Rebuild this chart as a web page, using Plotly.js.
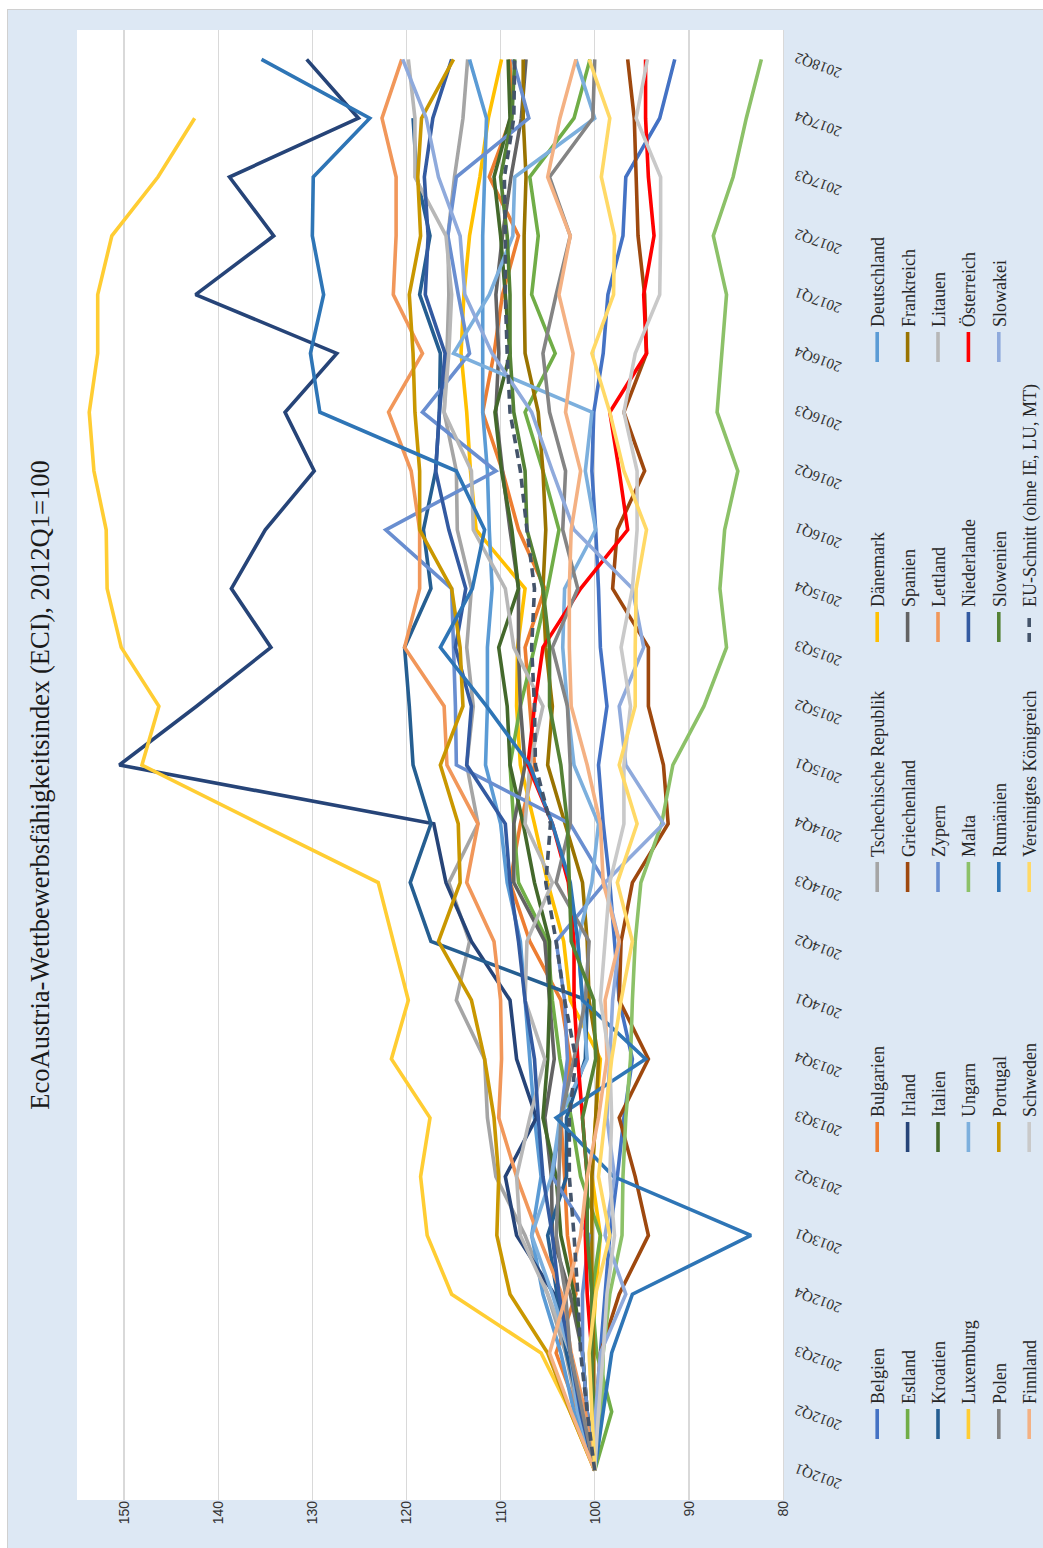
<!DOCTYPE html>
<html>
<head>
<meta charset="utf-8">
<script src="https://cdn.plot.ly/plotly-3.0.1.min.js"></script>
<style>
  html, body { margin: 0; padding: 0; background: #ffffff; }
  body { width: 1043px; height: 1548px; position: relative; overflow: hidden; }
  #wrap { position: absolute; left: 8px; top: 10px; width: 1035px; height: 1538px; outline: 1px solid #d0d0d0; }
  #plot { position: absolute; left: 0; top: 0; width: 1538px; height: 1035px;
          transform-origin: 0 0; transform: translate(0px, 1538px) rotate(-90deg); }
</style>
</head>
<body>
<div id="wrap"><div id="plot"></div></div>
<script>
const quarters = ['2012Q1','2012Q2','2012Q3','2012Q4','2013Q1','2013Q2','2013Q3','2013Q4',
  '2014Q1','2014Q2','2014Q3','2014Q4','2015Q1','2015Q2','2015Q3','2015Q4',
  '2016Q1','2016Q2','2016Q3','2016Q4','2017Q1','2017Q2','2017Q3','2017Q4','2018Q2'];

const belgien      = [100, 99.6, 99.4, 98.9, 98.4, 97.6, 96.9, 96.0, 97.4, 97.9, 98.4, 99.1, 99.6, 98.7, 99.4, 99.6, 99.9, 100.3, 100.1, 99.1, 98.6, 97.0, 96.7, 93.1, 91.5];
const bulgarien    = [100, 101.8, 104.1, 102.0, 102.9, 103.2, 103.6, 102.6, 103.6, 106.9, 109.0, 107.9, 106.4, 106.9, 107.4, 105.3, 108.1, 109.8, 111.9, 110.7, 109.8, 108.1, 111.2, 108.9, 109.0];
const tschechien   = [100, 101.8, 103.1, 105.0, 107.4, 110.5, 111.4, 111.7, 114.7, 113.3, 115.5, 112.4, 113.6, 112.9, 113.6, 113.1, 114.6, 114.7, 116.0, 115.7, 115.5, 115.6, 114.9, 114.0, 113.5];
const daenemark    = [100, 100.3, 100.3, 99.9, 99.4, 100.3, 99.9, 99.4, 102.6, 103.3, 105.0, 106.4, 107.9, 108.3, 108.2, 107.4, 112.6, 113.2, 113.6, 114.2, 113.9, 113.3, 112.2, 111.3, 109.9];
const deutschland  = [100, 102.2, 103.6, 105.5, 106.7, 105.7, 106.4, 106.9, 107.4, 107.9, 109.3, 110.0, 111.6, 111.4, 111.4, 110.9, 111.2, 111.4, 111.9, 111.9, 111.9, 111.9, 111.7, 111.5, 113.3];
const estland      = [100, 98.2, 99.8, 100.3, 99.4, 101.5, 102.5, 103.7, 104.5, 105.0, 108.1, 108.6, 109.0, 107.9, 106.4, 105.0, 103.8, 105.5, 107.4, 104.2, 106.7, 106.0, 106.9, 102.2, 100.5];
const irland       = [100, 101.3, 102.6, 104.3, 108.3, 109.5, 106.2, 108.3, 109.0, 113.1, 115.8, 117.1, 150.5, 142.3, 134.4, 138.6, 135.0, 129.8, 132.9, 127.4, 142.4, 134.1, 138.8, 125.1, 130.6];
const griechenland = [100, 99.9, 99.4, 97.4, 94.3, 95.7, 97.4, 94.3, 97.4, 97.2, 96.0, 92.2, 92.7, 94.3, 94.3, 98.1, 97.6, 94.7, 96.9, 94.5, 94.7, 95.4, 95.6, 95.8, 96.5];
const spanien      = [100, 100.8, 101.3, 102.6, 104.5, 104.6, 105.3, 104.3, 104.8, 105.3, 108.6, 108.6, 107.4, 107.9, 108.1, 108.1, 109.0, 109.8, 110.5, 110.2, 110.5, 109.8, 108.9, 107.8, 107.3];
const frankreich   = [100, 100.1, 100.1, 100.3, 100.3, 100.3, 99.9, 99.6, 100.6, 100.8, 101.3, 103.1, 105.0, 104.5, 105.2, 105.5, 105.2, 105.5, 106.0, 107.4, 107.5, 107.5, 107.3, 107.6, 107.6];
const kroatien     = [100, 101.5, 103.0, 104.0, 105.0, 103.0, 103.0, 101.0, 100.8, 117.4, 119.6, 117.4, 119.3, 119.7, 120.2, 117.4, 118.2, 116.9, 116.5, 116.4, 118.6, 117.5, 118.9, 119.3, null];
const italien      = [100, 100.8, 101.3, 102.2, 103.6, 104.1, 105.5, 105.0, 104.8, 104.8, 106.4, 107.6, 109.0, 109.3, 110.2, 108.1, 108.8, 109.9, 110.6, 109.0, 109.5, 110.0, 110.7, 109.0, 109.2];
const zypern       = [100, 100.8, 101.3, 101.3, 100.6, 104.5, 103.6, 102.9, 103.2, 104.1, 98.9, 102.6, 114.7, 114.8, 115.0, 115.2, 122.2, 110.5, 118.3, 113.3, 114.5, 115.6, 114.7, 107.0, 108.7];
const lettland     = [100, 101.0, 102.5, 103.5, 106.0, 108.3, 110.2, 109.9, 110.0, 110.7, 113.6, 112.4, 115.7, 116.0, 120.2, 118.6, 118.6, 119.5, 121.9, 118.3, 121.4, 121.1, 121.1, 122.6, 120.5];
const litauen      = [100, 101.3, 102.6, 105.0, 107.9, 108.3, 106.9, 105.3, 107.4, 107.2, 104.5, 107.4, 106.9, 105.5, 108.6, 109.5, 112.9, 113.1, 116.0, 115.5, 115.2, 115.8, 119.1, 119.1, 119.8];
const luxemburg    = [100, 102.6, 105.7, 115.2, 117.8, 118.5, 117.5, 121.6, 119.8, 121.4, 123.0, 135.6, 148.1, 146.3, 150.3, 151.8, 151.9, 153.2, 153.7, 152.8, 152.8, 151.3, 146.4, 142.5, null];
const ungarn       = [100, 101.8, 102.6, 104.5, 106.7, 104.6, 103.7, 100.8, 101.3, 101.8, 100.3, 99.6, 102.2, 102.9, 103.4, 103.2, 99.9, 101.0, 100.3, 115.0, 111.2, 108.7, 108.5, 100.0, 102.0];
const malta        = [100, 99.2, 99.1, 98.4, 97.1, 97.0, 96.7, 96.2, 96.0, 95.7, 95.1, 92.9, 91.7, 88.4, 86.0, 86.7, 86.2, 84.8, 87.0, 86.5, 86.0, 87.4, 85.3, 83.9, 82.3];
const niederlande  = [100, 101.5, 102.6, 103.8, 104.5, 105.5, 106.0, 106.4, 107.4, 108.1, 109.0, 109.5, 113.6, 113.1, 114.8, 113.7, 115.5, 116.9, 116.5, 115.9, 118.0, 117.7, 118.1, 117.2, 115.2];
const oesterreich  = [100, 100.1, 100.3, 100.8, 101.0, 100.8, 101.3, 101.8, 102.2, 102.2, 102.8, 104.5, 107.1, 106.4, 105.5, 101.5, 96.5, 97.4, 98.4, 94.5, 94.8, 93.7, 94.3, 94.6, 94.6];
const polen        = [100, 101.3, 102.6, 103.1, 104.1, 103.8, 103.6, 102.2, 101.0, 100.6, 104.1, 102.6, 102.6, 102.9, 104.5, 101.8, 103.4, 103.1, 104.8, 105.5, 104.1, 102.6, 104.8, 100.2, 100.0];
const portugal     = [100, 102.6, 105.0, 109.0, 110.4, 110.2, 110.7, 111.7, 113.1, 116.6, 114.3, 114.5, 116.4, 114.0, 114.3, 115.2, 118.6, 118.6, 119.1, 119.3, 119.7, 118.5, 118.8, 118.4, 115.0];
const rumaenien    = [100, 99.1, 98.2, 96.0, 83.4, 98.0, 104.1, 94.6, 101.3, 101.8, 102.6, 104.5, 106.9, 111.5, 116.4, 113.0, 111.7, 114.7, 129.2, 130.2, 128.8, 130.0, 129.9, 123.9, 135.4];
const slowenien    = [100, 100.1, 100.3, 100.3, 100.8, 100.8, 101.3, 99.9, 100.1, 102.5, 102.7, 102.9, 103.6, 104.8, 104.8, 105.5, 107.2, 107.4, 108.6, 109.0, 109.0, 109.3, 110.0, 108.8, 108.5];
const slowakei     = [100, 99.9, 99.4, 96.7, 98.9, 97.9, 98.7, 98.4, 98.1, 97.4, 98.9, 92.7, 96.7, 97.4, 94.8, 96.0, 102.2, 104.5, 106.7, 110.9, 113.8, 114.3, 116.6, 117.9, 120.4];
const finnland     = [100, 102.5, 104.8, 103.0, 101.5, 100.8, 99.6, 98.7, 98.9, 97.4, 99.1, 99.4, 100.8, 102.5, 102.7, 102.7, 102.5, 101.5, 103.1, 102.3, 103.8, 102.6, 105.0, 103.7, 102.0];
const schweden     = [100, 99.6, 99.1, 98.7, 97.9, 98.4, 98.2, 98.4, 99.4, 98.9, 98.4, 96.9, 96.9, 96.2, 97.2, 96.0, 95.5, 95.5, 96.9, 95.7, 93.1, 93.0, 93.0, 95.6, 94.4];
const vereinigtesKoenigreich = [100, 100.3, 100.6, 99.9, 98.4, 99.6, 98.9, 98.2, 97.2, 96.0, 97.6, 95.5, 97.4, 95.7, 95.7, 95.6, 94.5, 96.9, 98.4, 100.3, 98.0, 97.9, 99.3, 98.4, 100.6];
const euSchnitt    = [100, 100.8, 101.5, 101.8, 102.2, 102.7, 102.7, 102.0, 103.2, 104.1, 105.2, 104.7, 106.3, 106.4, 106.7, 106.4, 107.2, 107.9, 109.0, 109.3, 109.5, 109.5, 109.6, 108.6, 108.5];

const seriesNames = ['Belgien','Bulgarien','Tschechische Republik','Dänemark','Deutschland',
  'Estland','Irland','Griechenland','Spanien','Frankreich',
  'Kroatien','Italien','Zypern','Lettland','Litauen',
  'Luxemburg','Ungarn','Malta','Niederlande','Österreich',
  'Polen','Portugal','Rumänien','Slowenien','Slowakei',
  'Finnland','Schweden','Vereinigtes Königreich','EU-Schnitt (ohne IE, LU, MT)'];
const seriesValues = [belgien, bulgarien, tschechien, daenemark, deutschland,
  estland, irland, griechenland, spanien, frankreich,
  kroatien, italien, zypern, lettland, litauen,
  luxemburg, ungarn, malta, niederlande, oesterreich,
  polen, portugal, rumaenien, slowenien, slowakei,
  finnland, schweden, vereinigtesKoenigreich, euSchnitt];
const seriesColors = ['#4472C4','#ED7D31','#A5A5A5','#FFC000','#5B9BD5',
  '#70AD47','#264478','#9E480E','#636363','#997300',
  '#255E91','#43682B','#698ED0','#F1975A','#B7B7B7',
  '#FFCD33','#7CAFDD','#8CC168','#335AA1','#FF0000',
  '#848484','#C99700','#2E75B6','#548235','#8FAADC',
  '#F4B183','#C9C9C9','#FFD966','#44546A'];

const W = 1538, H = 1035;
const legendNames = ['legend','legend2','legend3','legend4','legend5'];
const legendLeft = [104, 391, 651, 901, 1181];
const legendTop = 851;

const traces = seriesValues.map((vals, k) => ({
  type: 'scatter', mode: 'lines',
  x: quarters, y: vals,
  name: seriesNames[k],
  legend: legendNames[k % 5],
  legendgroup: 'g' + k,
  connectgaps: false,
  line: { color: seriesColors[k], width: 3.6, dash: k === 28 ? '9px,6px' : 'solid' },
  hoverinfo: 'skip'
}));

const legendFont = { family: 'Liberation Serif, Times New Roman, serif', size: 18, color: '#262626' };
const layout = {
  width: W, height: H,
  paper_bgcolor: '#DDE8F4',
  plot_bgcolor: '#FFFFFF',
  margin: { l: 48, r: 20, t: 69, b: 260, pad: 0, autoexpand: false },
  title: {
    text: 'EcoAustria-Wettbewerbsfähigkeitsindex (ECI), 2012Q1=100',
    font: { family: 'Liberation Serif, Times New Roman, serif', size: 26.5, color: '#1a1a1a' },
    xref: 'container', yref: 'container', x: 763 / W, y: 1 - 32 / H,
    xanchor: 'center', yanchor: 'middle'
  },
  xaxis: {
    type: 'category', range: [-0.5, 24.5], automargin: false,
    tickangle: -70, showgrid: false, zeroline: false,
    showline: true, linecolor: '#D9D9D9', linewidth: 1, ticks: '',
    tickfont: { family: 'Liberation Serif, Times New Roman, serif', size: 15, color: '#333333' }
  },
  yaxis: {
    range: [80, 155], tick0: 80, dtick: 10, automargin: false,
    showgrid: true, gridcolor: '#D9D9D9', gridwidth: 1.3, zeroline: false,
    showline: false, ticks: '',
    tickfont: { family: 'Liberation Sans, Arial, sans-serif', size: 14, color: '#333333' }
  },
  showlegend: true
};
legendNames.forEach((ln, c) => {
  layout[ln] = {
    xref: 'container', yref: 'container',
    x: legendLeft[c] / W, y: 1 - legendTop / H,
    xanchor: 'left', yanchor: 'top',
    orientation: 'v', traceorder: 'grouped', tracegroupgap: 4,
    bgcolor: 'rgba(0,0,0,0)', borderwidth: 0,
    font: legendFont
  };
});

Plotly.newPlot('plot', traces, layout, { staticPlot: true, displayModeBar: false });
</script>
</body>
</html>
